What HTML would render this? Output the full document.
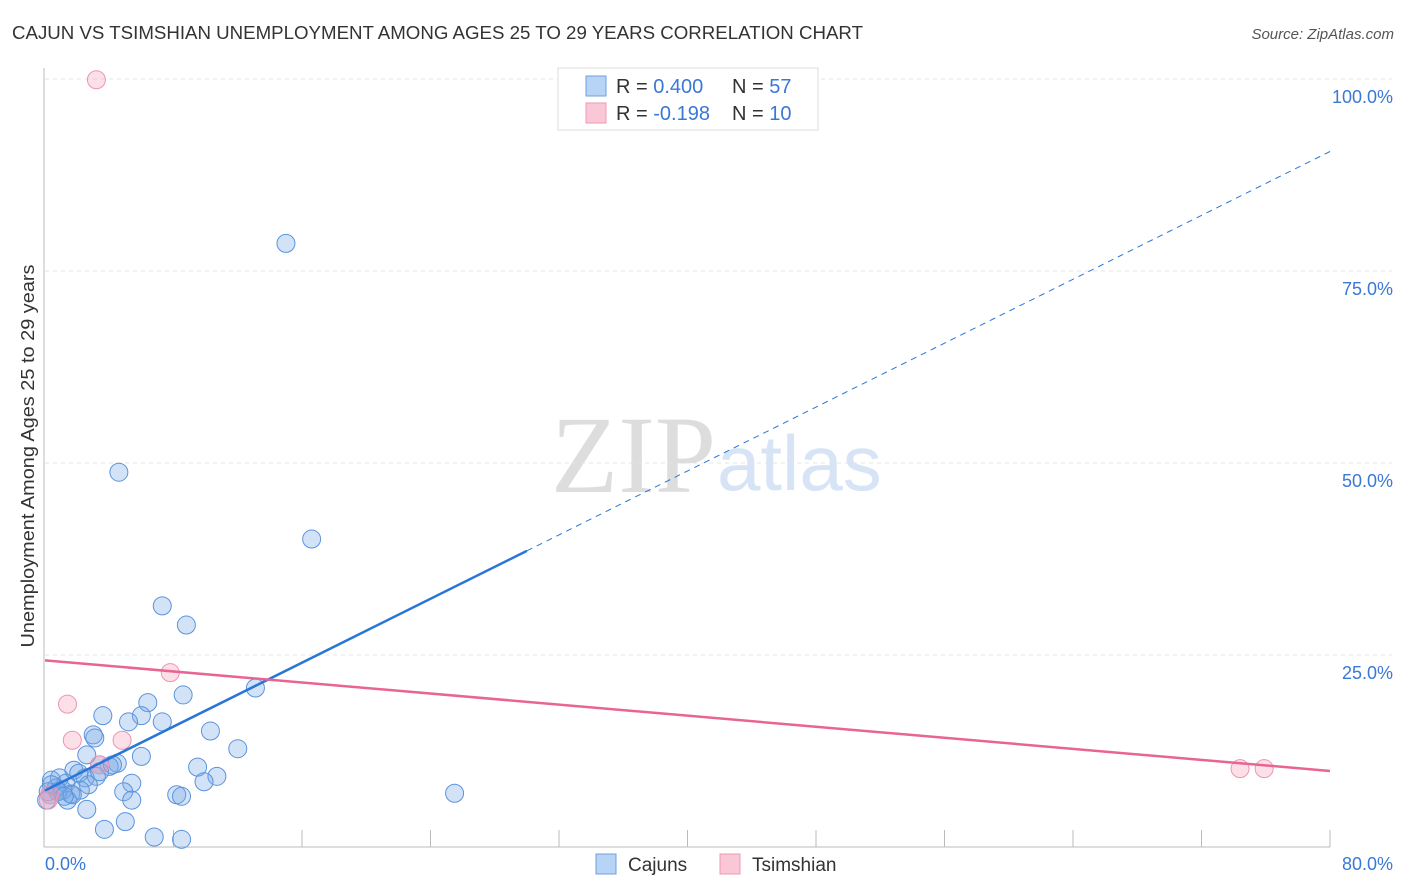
<!DOCTYPE html>
<html><head><meta charset="utf-8"><style>
body{margin:0;background:#fff;font-family:"Liberation Sans",sans-serif}
</style></head><body>
<svg id="c" width="1406" height="892" style="display:block"></svg>
<script>
const blueX=[15.0,4.6,16.6,7.3,8.8,8.6,13.1,6.4,3.6,6.0,5.2,7.3,10.3,3.0,3.1,12.0,6.0,2.6,4.5,3.4,4.0,9.5,10.7,9.9,5.4,1.8,2.1,2.5,3.2,0.9,0.4,1.3,0.7,2.7,4.9,1.6,8.2,8.5,5.4,25.5,1.4,2.6,3.7,5.0,6.8,8.5,0.3,0.2,0.4,2.2,1.1,0.8,0.1,3.4,4.2,1.7,1.2];
const blueY=[78.6,48.8,40.1,31.4,28.9,19.8,20.7,18.8,17.1,17.1,16.3,16.3,15.1,14.6,14.2,12.8,11.8,12.0,10.9,10.7,10.5,10.4,9.2,8.5,8.3,10.0,9.6,9.0,9.2,9.0,8.7,8.3,7.7,8.1,7.2,6.9,6.8,6.6,6.1,7.0,6.1,4.9,2.3,3.3,1.3,1.0,6.8,7.2,8.1,7.4,7.4,7.2,6.1,9.8,10.7,6.8,6.6];
const pinkX=[3.2,1.4,1.7,4.8,7.8,3.4,74.4,75.9,0.3,0.2];
const pinkY=[99.9,18.6,13.9,13.9,22.7,10.7,10.2,10.2,6.8,6.1];
const yTicks=[25,50,75,100];
const blueTrend=[7.36,1.04]; // intercept, slope
const pinkTrend=[24.3,-0.18];
const X=v=>45+v*1285/80, Y=v=>847-v*7.68;
const s=document.getElementById('c');const NS='http://www.w3.org/2000/svg';
function el(t,a,txt){const e=document.createElementNS(NS,t);for(const k in a)e.setAttribute(k,a[k]);if(txt!=null)e.textContent=txt;s.appendChild(e);return e;}
let e;
e=el('text',{x:12,y:39,'font-size':18,fill:'#333',textLength:851,lengthAdjust:'spacingAndGlyphs'},'CAJUN VS TSIMSHIAN UNEMPLOYMENT AMONG AGES 25 TO 29 YEARS CORRELATION CHART');

e=el('text',{x:1394,y:39,'font-size':15,fill:'#555','font-style':'italic','text-anchor':'end'},'Source: ZipAtlas.com');

e=el('text',{x:716,y:492,'font-size':110,fill:'#ddd','text-anchor':'end','font-family':'Liberation Serif'},'ZIP');

e=el('text',{x:717,y:490,'font-size':78,fill:'#d6e4f5'},'atlas');

yTicks.forEach(t=>{
 e=el('line',{x1:45,x2:1392,y1:Y(t),y2:Y(t),stroke:'#e4e4e4','stroke-dasharray':'4,4'});
 
 e=el('text',{x:1393,y:Y(t)+24,'font-size':18,fill:'#3a78d6','text-anchor':'end'},t.toFixed(1)+'%');
 
});
e=el('line',{x1:44,x2:44,y1:68,y2:847,stroke:'#bbb'});
e=el('line',{x1:44,x2:1330,y1:847,y2:847,stroke:'#bbb'});
for(let i=1;i<=10;i++){e=el('line',{x1:X(i*8),x2:X(i*8),y1:830,y2:847,stroke:'#bbb'});}
e=el('text',{x:45,y:870,'font-size':18,fill:'#3a78d6'},'0.0%');
e=el('text',{x:1393,y:870,'font-size':18,fill:'#3a78d6','text-anchor':'end'},'80.0%');
e=el('text',{x:34,y:456,'font-size':18,fill:'#333','text-anchor':'middle',transform:'rotate(-90 34 456)',textLength:383,lengthAdjust:'spacingAndGlyphs'},'Unemployment Among Ages 25 to 29 years');

blueX.forEach((x,i)=>{e=el('circle',{cx:X(x),cy:Y(blueY[i]),r:9,fill:'rgba(120,170,230,0.33)',stroke:'#5b93dd','stroke-width':1});
 });
pinkX.forEach((x,i)=>{e=el('circle',{cx:X(x),cy:Y(pinkY[i]),r:9,fill:'rgba(245,160,185,0.33)',stroke:'#ee94b0','stroke-width':1});
 });
e=el('line',{x1:X(0),y1:Y(blueTrend[0]),x2:X(30),y2:Y(blueTrend[0]+30*blueTrend[1]),stroke:'#2a75d8','stroke-width':2.5});

e=el('line',{x1:X(30),y1:Y(blueTrend[0]+30*blueTrend[1]),x2:X(80),y2:Y(blueTrend[0]+80*blueTrend[1]),stroke:'#2a75d8','stroke-width':1,'stroke-dasharray':'6,5'});

e=el('line',{x1:X(0),y1:Y(pinkTrend[0]),x2:X(80),y2:Y(pinkTrend[0]+80*pinkTrend[1]),stroke:'#e86492','stroke-width':2.5});

e=el('rect',{x:558,y:68,width:260,height:62,fill:'#fff',stroke:'#ddd'});
[['#b7d3f5','#6fa0e0','0.400','57',86],['#f9c7d6','#ee9ab5','-0.198','10',113]].forEach(r=>{
 e=el('rect',{x:586,y:r[4]-10,width:20,height:20,fill:r[0],stroke:r[1]});
 e=el('text',{x:616,y:r[4]+7,'font-size':20,fill:'#333'});
 e.innerHTML='R = <tspan fill="#3a78d6">'+r[2]+'</tspan><tspan x="732">N = </tspan><tspan fill="#3a78d6">'+r[3]+'</tspan>';
});
[['#b7d3f5','#6fa0e0','Cajuns',596],['#f9c7d6','#ee9ab5','Tsimshian',720]].forEach(r=>{
 e=el('rect',{x:r[3],y:854,width:20,height:20,fill:r[0],stroke:r[1]});
 e=el('text',{x:r[3]+32,y:871,'font-size':19,fill:'#333'},r[2]);
});
</script>
</body></html>
